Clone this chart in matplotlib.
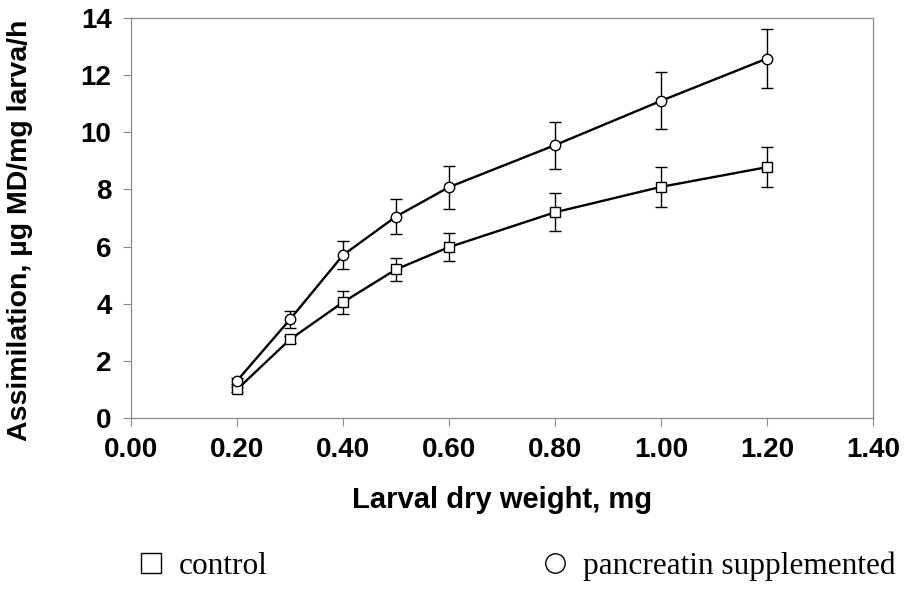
"""Assimilation vs larval dry weight - control and pancreatin supplemented."""

import matplotlib

matplotlib.use("Agg")
import matplotlib.pyplot as plt
from matplotlib.lines import Line2D

# Data
weight = [0.2, 0.3, 0.4, 0.5, 0.6, 0.8, 1.0, 1.2]
control = [1.0, 2.75, 4.05, 5.2, 5.98, 7.2, 8.09, 8.78]
control_err = [0.1, 0.12, 0.4, 0.4, 0.48, 0.66, 0.7, 0.7]
pancreatin = [1.3, 3.45, 5.7, 7.05, 8.08, 9.55, 11.1, 12.58]
pancreatin_err = [0.1, 0.3, 0.5, 0.6, 0.75, 0.82, 1.0, 1.02]

x_ticks = [0.0, 0.2, 0.4, 0.6, 0.8, 1.0, 1.2, 1.4]
y_ticks = [0, 2, 4, 6, 8, 10, 12, 14]

SANS = ["Liberation Sans", "DejaVu Sans"]
SERIF = ["Liberation Serif", "DejaVu Serif"]
FRAME = "#8a8a8a"

fig = plt.figure(figsize=(9.07, 6.09), dpi=100)
ax = fig.add_axes([0.1444, 0.3136, 0.818, 0.6568])

for y, err, marker in [
    (control, control_err, "s"),
    (pancreatin, pancreatin_err, "o"),
]:
    ax.errorbar(
        weight,
        y,
        yerr=err,
        color="black",
        lw=1.7,
        marker=marker,
        markersize=7.5,
        markerfacecolor="white",
        markeredgecolor="black",
        markeredgewidth=1.0,
        ecolor="black",
        elinewidth=1.0,
        capsize=4,
        capthick=1.0,
    )

ax.set_xlim(0, 1.4)
ax.set_ylim(0, 14)
ax.set_xticks(x_ticks)
ax.set_yticks(y_ticks)
ax.set_xticklabels([f"{v:.2f}" for v in x_ticks])
ax.set_yticklabels([str(v) for v in y_ticks])

for spine in ax.spines.values():
    spine.set_color(FRAME)
    spine.set_linewidth(0.9)
ax.tick_params(
    direction="out", length=6, width=0.8, color=FRAME, labelsize=20, pad=8
)
for lbl in ax.get_xticklabels() + ax.get_yticklabels():
    lbl.set_family(SANS)
    lbl.set_fontweight("bold")

ax.set_xlabel(
    "Larval dry weight, mg",
    family=SANS,
    fontweight="bold",
    fontsize=21,
    va="center",
)
ax.xaxis.set_label_coords(0.5, -0.205)
ax.set_ylabel(
    "Assimilation, µg MD/mg larva/h",
    family=SANS,
    fontweight="bold",
    fontsize=20.5,
    va="center",
)
ax.yaxis.set_label_coords(-0.15, 0.47)

legend_items = [
    ("s", "control", 0.149),
    ("o", "pancreatin supplemented", 0.595),
]
for marker, label, x0 in legend_items:
    handle = Line2D(
        [], [], ls="none", marker=marker, markersize=14,
        markerfacecolor="white", markeredgecolor="black",
        markeredgewidth=1.0, label=label,
    )
    fig.legend(
        handles=[handle],
        loc="center left",
        bbox_to_anchor=(x0, 0.0706),
        frameon=False,
        prop={"family": SERIF, "size": 22.5},
        handlelength=1.0,
        handletextpad=0.4,
        borderpad=0,
        borderaxespad=0,
    )

fig.savefig("out.png", dpi=100, facecolor="white")
plt.close(fig)
